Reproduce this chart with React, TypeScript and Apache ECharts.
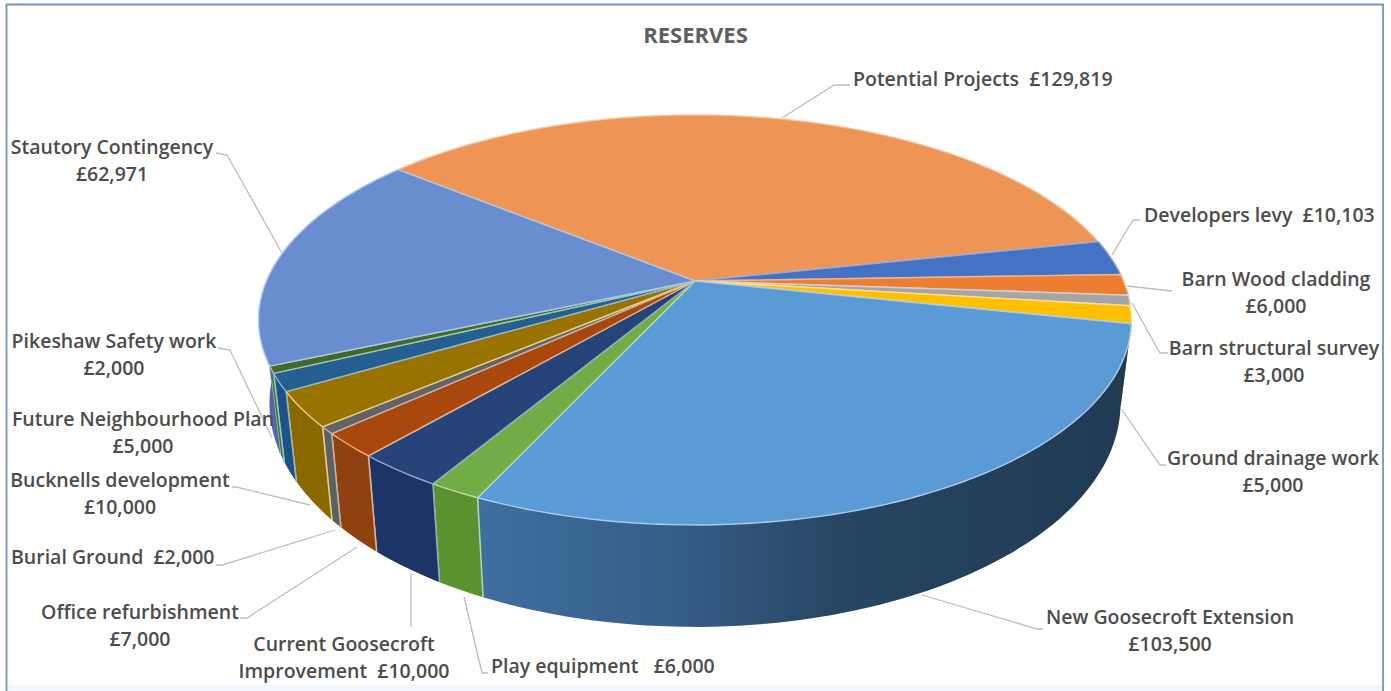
import React, { useEffect, useRef } from "react";
import * as echarts from "echarts";

const TITLE = "RESERVES";
const SLICE_NAMES = [
  "Potential Projects",
  "Developers levy",
  "Barn Wood cladding",
  "Barn structural survey",
  "Ground drainage work",
  "New Goosecroft Extension",
  "Play equipment",
  "Current Goosecroft\nImprovement",
  "Office refurbishment",
  "Burial Ground",
  "Bucknells development",
  "Future Neighbourhood Plan",
  "Pikeshaw Safety work",
  "Stautory Contingency",
];
const SLICE_VALUES = [129819, 10103, 6000, 3000, 5000, 103500, 6000, 10000, 7000, 2000, 10000, 5000, 2000, 62971];

const TOP_COLORS = ["#ee9455", "#4472c4", "#ed7d31", "#a5a5a5", "#ffc000", "#5b9bd5", "#70ad47", "#264478", "#a8480c", "#636363", "#997300", "#255e91", "#43682b", "#698ed0"];
const EDGE_COLORS = ["#f6c5a0", "#8fa9dc", "#f5b48a", "#d0d0d0", "#ffe08a", "#a8cbeb", "#b7dba0", "#8fa6d0", "#f0b080", "#b5b5b5", "#e8d080", "#8ab5d8", "#a0c8a0", "#b0c4ea"];
const WALL_COLORS = ["#a8683c", "#2f4f88", "#a55722", "#737373", "#b28600", "#33597f", "#5a9230", "#1d3566", "#8f4210", "#5f5f5f", "#8a6800", "#1d5286", "#3d6a40", "#4f66aa"];
const BIG_WALL_STOPS = [
  { offset: 0, color: "#3f6f9f" },
  { offset: 0.3, color: "#355e88" },
  { offset: 0.55, color: "#274663" },
  { offset: 1, color: "#203a52" },
];
const BIG_WALL_INDEX = 5;

// separator between name and amount, in label order
const LABEL_SEPARATORS = ["  ", "  ", "\n", "\n", "\n", "\n", "   ", "  ", "\n", "  ", "\n", "\n", "\n", "\n"];
// label anchors: [x, y of the first line's centre, align]
const LABEL_ANCHORS: [number, number, string][] = [
  [853, 79, "left"],
  [1144, 215, "left"],
  [1276, 279, "center"],
  [1274, 348, "center"],
  [1273, 458, "center"],
  [1170, 617, "center"],
  [491, 666, "left"],
  [344, 644, "center"],
  [140, 612, "center"],
  [11, 557, "left"],
  [120, 480, "center"],
  [143, 419, "center"],
  [114, 341, "center"],
  [112, 147, "center"],
];
const LEADERS: number[][][] = [
  [[782, 118], [834, 85], [850, 85]],
  [[1112, 255], [1133, 220], [1140, 220]],
  [[1127, 286], [1172, 291]],
  [[1132, 303], [1160, 353], [1168, 353]],
  [[1122, 410], [1160, 465], [1166, 465]],
  [[922, 595], [1037, 629], [1043, 629]],
  [[464, 597], [482, 673], [488, 673]],
  [[411, 573], [411, 627]],
  [[357, 547], [247, 618], [240, 618]],
  [[335, 530], [222, 565], [216, 565]],
  [[310, 505], [236, 487], [232, 487]],
  [],
  [[218, 348], [230, 350], [272, 438]],
  [[216, 153], [227, 155], [282, 253]],
];

// Perspective model of the pie disc
const APEX_X = 695;
const APEX_Y = 281;
const RX = 428.5;
const RY = 197.6;
const PERSP = 0.19;
const BOTTOM_APEX_Y = 361;
const BOTTOM_SX = 0.975;
const BOTTOM_SY = 1.09;
const START_DEG = -50.9;

const TOTAL = SLICE_VALUES.reduce((a, b) => a + b, 0);
const sliceAngles = (i: number): [number, number] => {
  let before = 0;
  for (let k = 0; k < i; k++) before += SLICE_VALUES[k];
  const a0 = START_DEG + (before / TOTAL) * 360;
  return [a0, a0 + (SLICE_VALUES[i] / TOTAL) * 360];
};
const topPoint = (deg: number): number[] => {
  const t = (deg * Math.PI) / 180;
  const X = Math.sin(t);
  const Y = -Math.cos(t);
  const d = 1 - PERSP * Y;
  return [APEX_X + (RX * X) / d, APEX_Y + (RY * Y) / d];
};
const bottomPoint = (deg: number): number[] => {
  const p = topPoint(deg);
  return [APEX_X + (p[0] - APEX_X) * BOTTOM_SX, BOTTOM_APEX_Y + (p[1] - APEX_Y) * BOTTOM_SY];
};
const arc = (a0: number, a1: number, f: (d: number) => number[]): number[][] => {
  const n = Math.max(2, Math.ceil(Math.abs(a1 - a0) / 1.5));
  const pts: number[][] = [];
  for (let i = 0; i <= n; i++) pts.push(f(a0 + ((a1 - a0) * i) / n));
  return pts;
};

const renderWall = (params: any) => {
  const i = params.dataIndex;
  const [a0, a1] = sliceAngles(i);
  const points = [...arc(a0, a1, topPoint), ...arc(a1, a0, bottomPoint)];
  const fill =
    i === BIG_WALL_INDEX ? new echarts.graphic.LinearGradient(0, 0, 1, 0, BIG_WALL_STOPS) : WALL_COLORS[i];
  const children: any[] = [{ type: "polygon", shape: { points }, style: { fill, stroke: "none" } }];
  const midY = -Math.cos((((a0 + a1) / 2) * Math.PI) / 180);
  if (midY > 0.3 && i !== BIG_WALL_INDEX) {
    [a0, a1].forEach((a) => {
      const p = topPoint(a);
      const q = bottomPoint(a);
      children.push({
        type: "line",
        shape: { x1: p[0], y1: p[1], x2: q[0], y2: q[1] },
        style: { stroke: EDGE_COLORS[i], lineWidth: 1.5 },
      });
    });
  }
  return { type: "group", children };
};

const renderTop = (params: any) => {
  const i = params.dataIndex;
  const [a0, a1] = sliceAngles(i);
  const points = [[APEX_X, APEX_Y], ...arc(a0, a1, topPoint)];
  return {
    type: "polygon",
    shape: { points },
    style: { fill: TOP_COLORS[i], stroke: EDGE_COLORS[i], lineWidth: 1.4, lineJoin: "round" },
  };
};

const money = (v: number) => "£" + v.toLocaleString("en-GB");
const FONT = "'Open Sans', Lato, sans-serif";

export default function App() {
  const ref = useRef<HTMLDivElement>(null);
  useEffect(() => {
    const chart = echarts.init(ref.current!, undefined, { renderer: "svg" });
    const labelGraphics = SLICE_NAMES.map((name, i) => {
      const [x, y, align] = LABEL_ANCHORS[i];
      return {
        type: "text",
        z: 10,
        x,
        y: y - 14,
        style: {
          text: name + LABEL_SEPARATORS[i] + money(SLICE_VALUES[i]),
          fill: "#4c4c4c",
          font: `600 19.5px ${FONT}`,
          align,
          verticalAlign: "top",
          lineHeight: 27,
        },
      };
    });
    const leaderGraphics = LEADERS.filter((l) => l.length).map((points) => ({
      type: "polyline",
      z: 1,
      shape: { points },
      style: { stroke: "#bdbdbd", lineWidth: 1.3, fill: "none" },
    }));
    chart.setOption({
      animation: false,
      backgroundColor: "#ffffff",
      title: {
        text: TITLE,
        left: "center",
        top: 18,
        textStyle: { color: "#5f5f5f", fontFamily: FONT, fontWeight: 700, fontSize: 22 },
      },
      graphic: [
        {
          type: "rect",
          z: 0,
          shape: { x: 7, y: 685, width: 1376, height: 6 },
          style: { fill: "#f2f8fd" },
        },
        {
          type: "polyline",
          z: 0,
          shape: { points: [[6.5, 691], [6.5, 4.5], [1383, 4.5], [1383, 691]] },
          style: { stroke: "#7692c6", lineWidth: 1.8, fill: "none" },
        },
        ...leaderGraphics,
        ...labelGraphics,
      ],
      series: [
        {
          type: "custom",
          coordinateSystem: "none",
          z: 2,
          renderItem: renderWall,
          data: SLICE_VALUES.map((v) => [v]),
          silent: true,
        },
        {
          type: "custom",
          coordinateSystem: "none",
          z: 3,
          renderItem: renderTop,
          data: SLICE_VALUES.map((v) => [v]),
          silent: true,
        },
      ],
    });
    return () => chart.dispose();
  }, []);
  return (
    <div
      ref={ref}
      style={{ position: "fixed", left: 0, top: 0, width: 1391, height: 691 }}
    />
  );
}
